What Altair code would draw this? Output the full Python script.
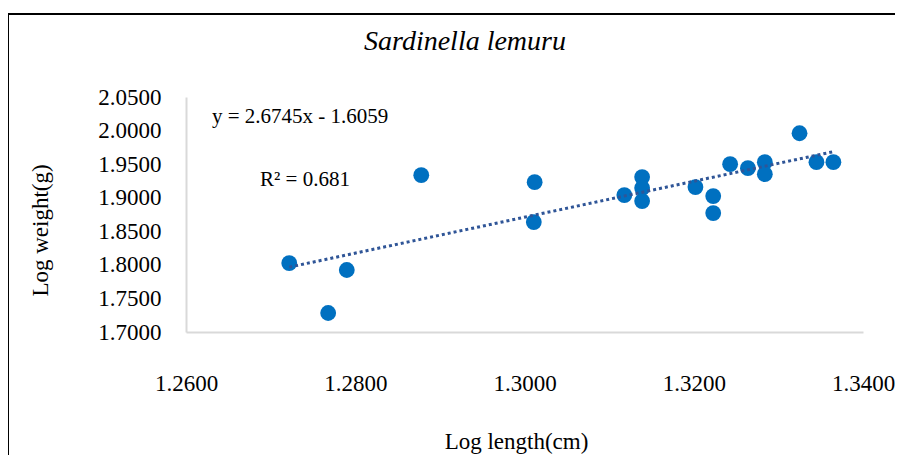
import altair as alt
import pandas as pd

# Data
log_length = [1.2722, 1.2768, 1.2790, 1.2878, 1.3011, 1.3012, 1.3118, 1.3139, 1.3139, 1.3139,
              1.3202, 1.3223, 1.3223, 1.3243, 1.3264, 1.3284, 1.3284, 1.3325, 1.3345, 1.3365]
log_weight = [1.8027, 1.7283, 1.7923, 1.9336, 1.8637, 1.9232, 1.9039, 1.9307, 1.9143, 1.8950,
              1.9158, 1.9024, 1.8771, 1.9500, 1.9440, 1.9530, 1.9350, 1.9960, 1.9530, 1.9530]

slope = 2.6745
intercept = -1.6059
r_squared = "0.681"

x_ticks = [1.26, 1.28, 1.30, 1.32, 1.34]
y_ticks = [1.70, 1.75, 1.80, 1.85, 1.90, 1.95, 2.00, 2.05]

title_text = "Sardinella lemuru"
x_title = "Log length(cm)"
y_title = "Log weight(g)"
eq_text = "y = 2.6745x - 1.6059"
r2_text = "R\u00b2 = " + r_squared

FONT = "Liberation Serif"
W, H = 677, 235

pts = pd.DataFrame({"x": log_length, "y": log_weight})
xmin, xmax = min(log_length), max(log_length)
trend = pd.DataFrame({"x": [xmin, xmax],
                      "y": [slope * xmin + intercept, slope * xmax + intercept]})

xscale = alt.Scale(domain=[1.26, 1.34], nice=False, zero=False)
yscale = alt.Scale(domain=[1.70, 2.05], nice=False, zero=False)

xaxis = alt.Axis(values=x_ticks, format=".4f", title=x_title, grid=False,
                 domainColor="#d9d9d9", domainWidth=2, ticks=False,
                 labelFlush=False, labelOverlap=False,
                 labelFont=FONT, labelFontSize=23, labelColor="#000000", labelPadding=40,
                 titleFont=FONT, titleFontSize=23, titleFontWeight="normal", titleColor="#000000",
                 titleX=330, titleY=109, titleAnchor="middle", titleBaseline="middle")
yaxis = alt.Axis(values=y_ticks, format=".4f", title=y_title, grid=False,
                 domainColor="#d9d9d9", domainWidth=2, ticks=False,
                 labelFlush=False, labelOverlap=False,
                 labelFont=FONT, labelFontSize=23, labelColor="#000000", labelPadding=25,
                 titleFont=FONT, titleFontSize=23, titleFontWeight="normal", titleColor="#000000",
                 titleX=-146, titleY=133, titleAngle=-90, titleAnchor="middle",
                 titleBaseline="middle", titleAlign="center")

points = alt.Chart(pts).mark_circle(size=250, color="#0070C0", opacity=1).encode(
    x=alt.X("x:Q", scale=xscale, axis=xaxis),
    y=alt.Y("y:Q", scale=yscale, axis=yaxis),
)

line = alt.Chart(trend).mark_line(color="#2F5597", strokeWidth=3, strokeDash=[3, 3],
                                  strokeCap="butt").encode(
    x=alt.X("x:Q", scale=xscale, axis=xaxis),
    y=alt.Y("y:Q", scale=yscale, axis=yaxis),
)

one = alt.Data(values=[{}])

frame = alt.Chart(one).mark_rect(fillOpacity=0, stroke="#000000", strokeWidth=2).encode(
    x=alt.value(-178), x2=alt.value(740), y=alt.value(-83), y2=alt.value(420)
)

title = alt.Chart(one).mark_text(text=title_text, font=FONT, fontSize=28, fontStyle="italic",
                                 align="center", baseline="middle", color="#000000").encode(
    x=alt.value(279), y=alt.value(-55)
)

eq = alt.Chart(one).mark_text(text=eq_text, font=FONT, fontSize=21, align="left",
                              baseline="middle", color="#000000").encode(
    x=alt.value(26), y=alt.value(20)
)
r2 = alt.Chart(one).mark_text(text=r2_text, font=FONT, fontSize=21, align="left",
                              baseline="middle", color="#000000").encode(
    x=alt.value(74), y=alt.value(83)
)

chart = alt.layer(frame, points, line, title, eq, r2).properties(
    width=W, height=H,
    background="#ffffff",
    autosize=alt.AutoSizeParams(type="none"),
    padding={"left": 178, "top": 89, "right": 32, "bottom": 123},
).configure_view(strokeWidth=0, stroke="transparent")

chart.save("out.html", embed_options={"renderer": "svg", "actions": False})
